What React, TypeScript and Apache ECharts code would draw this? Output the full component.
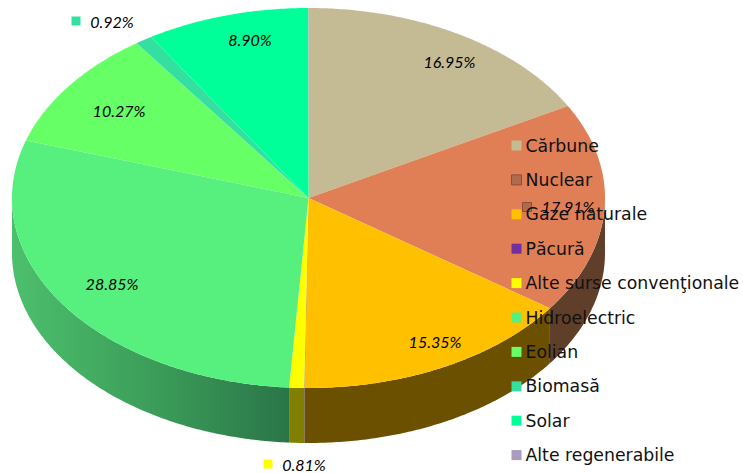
import React, { useEffect, useRef } from "react";
import * as echarts from "echarts";

const categories = ["Cărbune", "Nuclear", "Gaze naturale", "Păcură", "Alte surse convenţionale", "Hidroelectric", "Eolian", "Biomasă", "Solar", "Alte regenerabile"];
const shares = [16.95, 17.91, 15.35, 0.02, 0.81, 28.85, 10.27, 0.92, 8.9, 0.02];
const labels = ["16.95%", "17.91%", "15.35%", "", "0.81%", "28.85%", "10.27%", "0.92%", "8.90%", ""];
const topColors = ["#c4bb95", "#e07f55", "#ffc000", "#7030a0", "#ffff00", "#57f07f", "#66ff66", "#33e0a0", "#00ff99", "#a99bbd"];
const wallColors = ["#625d4a", "#5f3f2a", "#6b5000", "#381850", "#807f00", "#2c7840", "#338033", "#1a7050", "#00804c", "#554d5e"];
const labelCenters: number[][] = [[449.5, 61], [568, 206], [435, 341], [0, 0], [304, 464], [112, 283], [119, 110], [112, 21], [250, 39], [0, 0]];
const labelMarkers: (number[] | null)[] = [null, [527, 207], null, null, [268, 464], null, null, [76, 21], null, null];

const CX = 308.5, CY = 198, RX = 296.5, RY = 190, DEPTH = 55;
const total = 100;

function rimPoints(a0: number, a1: number, dy: number) {
  const n = Math.max(2, Math.ceil((a1 - a0) / 0.01));
  const pts: number[][] = [];
  for (let i = 0; i <= n; i++) {
    const a = a0 + ((a1 - a0) * i) / n;
    pts.push([CX + RX * Math.sin(a), CY - RY * Math.cos(a) + dy]);
  }
  return pts;
}

export default function App() {
  const ref = useRef<HTMLDivElement>(null);
  useEffect(() => {
    const chart = echarts.init(ref.current!, null, { renderer: "svg" });
    let cum = 0;
    const starts = shares.map((v) => {
      const s = cum;
      cum += v;
      return s;
    });
    const series = categories.map((name, idx) => ({
      type: "custom",
      name,
      coordinateSystem: "none",
      silent: true,
      itemStyle: { color: topColors[idx] },
      data: [[shares[idx]]],
      renderItem: (_p: any, api: any) => {
        const v = api.value(0);
        const a0 = (starts[idx] / total) * 2 * Math.PI;
        const a1 = ((starts[idx] + v) / total) * 2 * Math.PI;
        const children: any[] = [];
        const w0 = Math.max(a0, Math.PI / 2);
        const w1 = Math.min(a1, (3 * Math.PI) / 2);
        if (w1 > w0) {
          const upper = rimPoints(w0, w1, 0);
          const lower = rimPoints(w0, w1, DEPTH).reverse();
          const wallFill =
            idx === 5
              ? new echarts.graphic.LinearGradient(1, 0, 0, 0, [
                  { offset: 0, color: "#2a7548" },
                  { offset: 0.45, color: "#3a9a58" },
                  { offset: 1, color: "#4cc06c" },
                ])
              : wallColors[idx];
          children.push({
            type: "polygon",
            shape: { points: upper.concat(lower) },
            style: { fill: wallFill },
          });
        }
        children.push({
          type: "polygon",
          shape: { points: [[CX, CY], ...rimPoints(a0, a1, 0)] },
          style: { fill: topColors[idx] },
        });
        return { type: "group", children };
      },
    }));
    const labelElements: any[] = [];
    categories.forEach((_, idx) => {
      if (!labels[idx]) return;
      const m = labelMarkers[idx];
      if (m) {
        labelElements.push({
          type: "rect",
          shape: { x: m[0] - 4.5, y: m[1] - 4.5, width: 9, height: 9 },
          style: idx === 1 ? { fill: "#b06a4c", stroke: "#8a5038", lineWidth: 1 } : { fill: topColors[idx] },
          z: 5,
        });
      }
      labelElements.push({
        type: "text",
        x: labelCenters[idx][0],
        y: labelCenters[idx][1],
        z: 5,
        style: {
          text: labels[idx],
          fontFamily: "Lato",
          fontStyle: "italic",
          fontSize: 16,
          fill: "#000000",
          align: "center",
          verticalAlign: "middle",
        },
      });
    });
    chart.setOption({
      animation: false,
      backgroundColor: "#ffffff",
      legend: {
        orient: "vertical",
        left: 511,
        top: 137,
        padding: 0,
        itemGap: 17.4,
        itemWidth: 10,
        itemHeight: 10,
        icon: "rect",
        selectedMode: false,
        z: 10,
        data: categories.map((name, idx) =>
          idx === 1
            ? { name, itemStyle: { color: "#b06a4c", borderColor: "#8a5038", borderWidth: 1 } }
            : { name }
        ),
        textStyle: { fontFamily: "DejaVu Sans", fontSize: 17.3, color: "#111111", padding: [0, 0, 0, -1] },
      },
      graphic: { elements: labelElements },
      series,
    });
    return () => chart.dispose();
  }, []);
  return <div ref={ref} style={{ width: 743, height: 473, position: "absolute", left: 0, top: 0 }} />;
}
